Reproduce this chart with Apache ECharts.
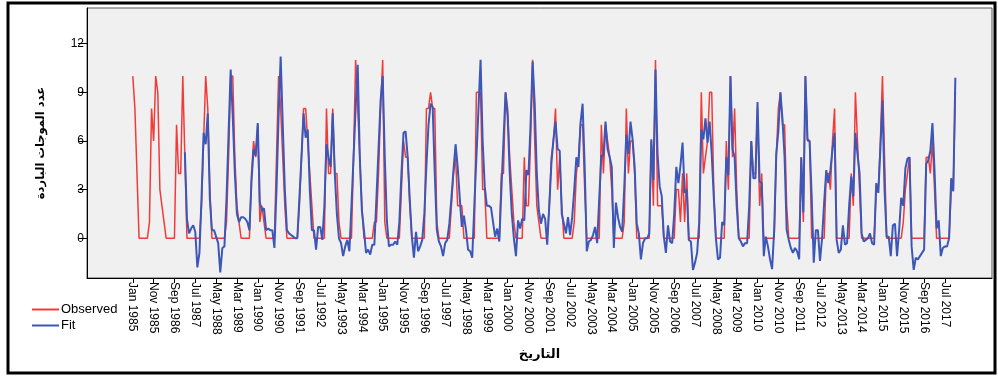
<!DOCTYPE html>
<html><head><meta charset="utf-8">
<script src="https://cdn.jsdelivr.net/npm/echarts@6/dist/echarts.min.js"></script>
<style>html,body{margin:0;padding:0;background:#fff}#c{width:998px;height:376px}</style>
</head><body><div id="c"></div>
<script>
// x tick labels, every 10 months starting Jan 1985 (month index 0)
const tickLabels = ['Jan 1985','Nov 1985','Sep 1986','Jul 1987','May 1988','Mar 1989','Jan 1990','Nov 1990',
  'Sep 1991','Jul 1992','May 1993','Mar 1994','Jan 1995','Nov 1995','Sep 1996','Jul 1997','May 1998','Mar 1999',
  'Jan 2000','Nov 2000','Sep 2001','Jul 2002','May 2003','Mar 2004','Jan 2005','Nov 2005','Sep 2006','Jul 2007',
  'May 2008','Mar 2009','Jan 2010','Nov 2010','Sep 2011','Jul 2012','May 2013','Mar 2014','Jan 2015','Nov 2015',
  'Sep 2016','Jul 2017'];
const yTicks = [0, 3, 6, 9, 12];

// monthly observed values Jan 1985 .. Dec 2017 (one row per year)
const observed = [
  10,8,4,0,0,0,0,0,1,8,6,10,
  9,3,2,1,0,0,0,0,0,7,4,4,
  10,5,0,0,0,0,0,0,0,2,6,10,
  8,3,0,0,0,0,0,0,0,1,5,10,
  10,5,2,1,0,0,0,0,0,4,6,5,
  7,1,2,1,0,0,0,0,0,5,10,8,
  5,2,0,0,0,0,0,0,2,5,8,8,
  6,4,2,0,0,0,0,0,0,8,4,4,
  8,4,4,1,0,0,0,0,0,0,5,11,
  8,5,2,0,0,0,0,0,1,1,4,8,
  11,1,0,0,0,0,0,0,0,3,6,5,
  5,2,0,0,0,0,0,0,0,8,8,9,
  8,8,1,0,0,0,0,0,0,2,4,5,
  2,2,2,0,0,0,0,0,0,9,9,9,
  3,3,0,0,0,0,0,0,0,4,4,9,
  8,5,3,1,0,0,0,0,5,2,2,6,
  11,6,2,1,0,0,0,0,2,5,6,8,
  3,5,2,0,0,0,0,0,1,4,5,7,
  7,3,0,0,0,0,0,0,0,7,4,7,
  6,5,3,0,0,0,0,0,1,8,4,6,
  6,4,0,0,0,0,0,0,0,6,2,11,
  2,2,2,0,0,0,0,0,0,3,3,1,
  4,1,4,0,0,0,0,0,0,9,4,5,
  6,9,9,3,0,0,0,0,0,6,3,10,
  5,8,3,0,0,0,0,0,0,6,4,4,
  8,2,4,0,0,0,0,0,0,5,8,9,
  7,7,2,0,0,0,0,0,0,5,1,10,
  6,6,0,0,0,0,0,0,0,4,4,3,
  6,8,0,0,0,0,0,0,0,4,2,9,
  6,3,0,0,0,0,0,0,0,3,3,6,
  10,5,0,0,0,0,0,0,0,0,1,3,
  4,5,0,0,0,0,0,0,0,5,5,4,
  6,3,0,0,0,0,0,0,0,3,3,9
];

// monthly model fit values (model output starts Feb 1987)
const fitted = [
  null,null,null,null,null,null,null,null,null,null,null,null,
  null,null,null,null,null,null,null,null,null,null,null,null,
  null,5.3,1.2,0.3,0.6,0.8,0.4,-1.8,-0.9,2.5,6.5,5.8,
  7.7,2.4,0.5,0.5,0.1,-0.3,-2.1,-0.6,-0.5,2.5,6.5,10.4,
  7.5,4,1.5,1.0,1.3,1.3,1.2,1.0,0.5,3.5,5.5,5.1,
  7.1,2.2,1.7,1.85,0.5,0.6,0.5,0.5,-0.6,3,7.5,11.2,
  7,3,0.5,0.3,0.2,0.1,0,0,2.5,5,7.7,6.2,
  6.7,3,0.5,0.5,-0.7,0.7,0.7,-0.1,2,5.8,5.0,4.4,
  7.7,4,1.5,0,-0.3,-1.1,-0.5,-0.1,-0.8,2,5,8,
  10.7,5,1.7,0.5,-0.9,-0.7,-1.0,-0.4,-0.4,2.5,5.5,8.5,
  10,5,1.1,-0.5,-0.4,-0.4,-0.2,-0.4,1,4,6.5,6.6,
  5,2.4,0.1,-1.2,0.4,-0.8,-0.5,-0.1,1.5,4.5,7,8.3,
  8.1,4,0.5,-0.2,-0.5,-1.1,-0.3,-0.1,0.9,2.5,4.2,5.8,
  4.4,2.5,0.7,1.4,0.5,-0.7,-0.8,-1.2,2,5,8,11,
  6,3.2,2,2,1.9,1,0.1,0.6,-0.2,3,6,9,
  7.5,4,1.5,0,-1.1,1.1,0.6,1.2,1.1,4.2,3.9,7,
  10.9,8.3,4,1.7,0.9,1.5,1.2,-0.4,2,4.6,6.1,7.2,
  5.5,5.4,1.5,0.9,0.3,1.3,0.2,1.3,3,5,4.4,7.1,
  8.3,4.4,-0.8,-0.2,-0.1,0.2,0.7,-0.3,2.5,5.1,5.1,7.2,
  5.5,5,4.4,-0.6,2.2,1.3,0.7,0.4,3.1,6.4,5.2,7.2,
  6.1,4.4,0.9,0.3,-1.3,-0.3,0,0,0.3,6.1,3.6,10.4,
  5.2,3.2,2.6,0.1,-0.9,0.8,-0.2,-0.3,1.5,4.4,3.4,4.5,
  5.9,2.8,3,-0.1,-0.2,-1.95,-1.5,-0.9,1,6.7,6.1,7.4,
  5.9,7.2,5.2,2.5,0,-1.3,-1.2,1,0.8,5,3.9,10,
  5.5,5,2,0,-0.2,-0.5,-0.3,-0.3,2,6,3.7,3.7,
  8.4,3.5,3.4,-1.1,0.1,-0.5,-1.3,-1.9,0.5,5.2,6.6,9,
  7.3,5,0.5,-0.1,-0.6,-0.9,-0.6,-0.8,-1.3,5,1.6,10,
  6.1,6,2.6,-1.5,0.5,0.5,-1.4,0,2.2,4.2,3.4,4.2,
  5.5,6.5,-0.1,-0.9,-0.7,0.8,-0.4,-0.3,2,3.8,2.6,6.5,
  5.2,4,0.3,-0.2,-0.1,0,0.3,-0.3,-0.4,3.4,2.8,5.5,
  8.5,3,0.1,0.1,-1.1,0.8,0.9,-1.1,0.5,2.5,2,4.3,
  4.9,5,-0.5,-1.95,-1.2,-1.3,-1.1,-0.9,-0.7,4.6,4.8,5.4,
  7.1,4.2,0.6,1.1,-1.1,-0.6,-0.5,-0.5,0,3.7,2.9,9.9
];

const tickIdx = tickLabels.map((_, i) => i * 10);
const chart = echarts.init(document.getElementById('c'), null, {renderer: 'canvas'});
chart.setOption({
  animation: false,
  backgroundColor: '#ffffff',
  grid: {left: 87, right: 6, top: 8, bottom: 98, show: true, backgroundColor: '#f0f0f0', borderColor: '#555', borderWidth: 1},
  legend: {
    data: ['Observed', 'Fit'], orient: 'vertical', left: 27, top: 298,
    itemWidth: 27, itemHeight: 2, itemGap: 3, icon: 'rect',
    textStyle: {fontSize: 13, color: '#000', fontFamily: 'Liberation Sans, Arial, sans-serif', padding: [0, 0, 0, -3]}
  },
  xAxis: {
    type: 'value', min: -22, max: 412.6,
    axisLine: {show: true, onZero: false, lineStyle: {color: '#000', width: 1}},
    axisTick: {show: true, customValues: tickIdx, length: 5, lineStyle: {color: '#000'}},
    axisLabel: {customValues: tickIdx, rotate: -90, margin: 4, fontSize: 12, color: '#000',
      fontFamily: 'Liberation Sans, Arial, sans-serif',
      formatter: v => tickLabels[Math.round(v / 10)]},
    splitLine: {show: false},
    name: 'التاريخ', nameLocation: 'middle', nameGap: 70,
    nameTextStyle: {fontFamily: 'DejaVu Sans', fontWeight: 'bold', fontSize: 13, color: '#000'}
  },
  yAxis: {
    type: 'value', min: -2.45, max: 14.2,
    axisLine: {show: true, onZero: false, lineStyle: {color: '#000', width: 1}},
    axisTick: {show: true, customValues: yTicks, length: 9, lineStyle: {color: '#000'}},
    axisLabel: {customValues: yTicks, margin: 3, fontSize: 12, color: '#000', fontFamily: 'Liberation Sans, Arial, sans-serif'},
    splitLine: {show: false},
    name: 'عدد الموجات الباردة', nameLocation: 'middle', nameGap: 40, nameRotate: 90,
    nameTextStyle: {fontFamily: 'DejaVu Sans', fontWeight: 'bold', fontSize: 11.5, color: '#000'}
  },
  graphic: [{
    type: 'rect', silent: true, z: 100,
    shape: {x: 8, y: 3, width: 987, height: 370},
    style: {fill: 'none', stroke: '#000', lineWidth: 3}
  }],
  series: [
    {name: 'Observed', type: 'line', showSymbol: false, symbol: 'none',
     data: observed.map((v, i) => [i, v]),
     lineStyle: {color: '#f23a3a', width: 1.5}, itemStyle: {color: '#f23a3a'}},
    {name: 'Fit', type: 'line', showSymbol: false, symbol: 'none', connectNulls: false,
     data: fitted.map((v, i) => [i, v]),
     lineStyle: {color: '#3d57b8', width: 2}, itemStyle: {color: '#3d57b8'}}
  ]
});
</script></body></html>
